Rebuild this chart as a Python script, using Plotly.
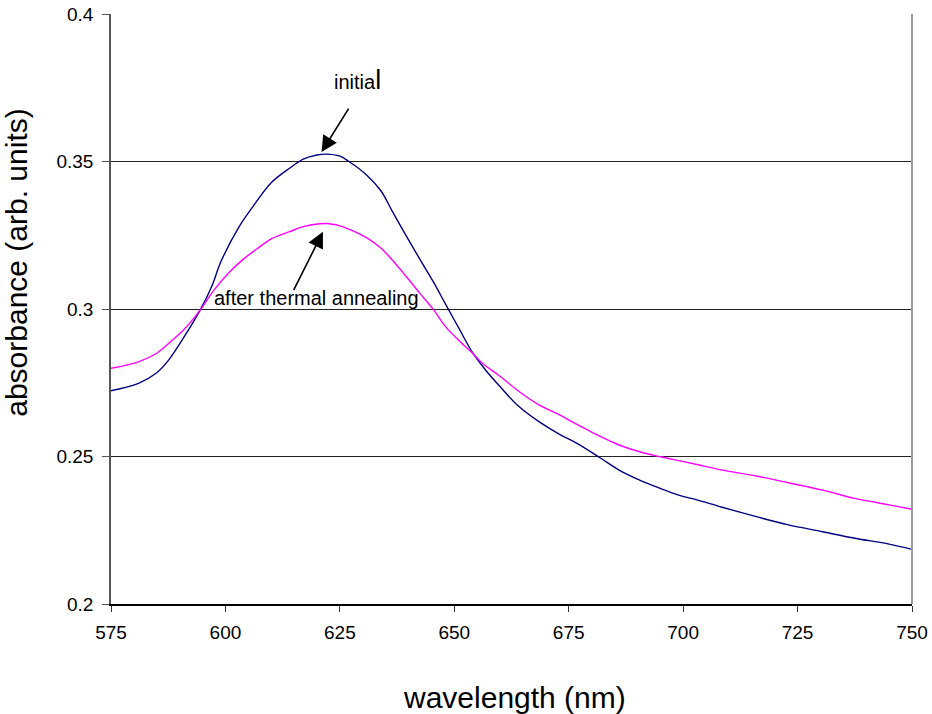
import plotly.graph_objects as go

# Wavelength (nm) and absorbance
wl_initial = [575, 581, 585, 587.5, 591, 594.5, 597, 599, 603, 606, 610, 614, 617, 620, 622,
              625, 627, 631, 634, 636.5, 639.5, 642.5, 645.5, 648, 651, 654, 657, 660, 664,
              668.5, 673, 677, 682, 686, 690.5, 695, 699, 703, 708.5, 716, 723, 730.5, 737.5,
              745, 750]
abs_initial = [0.2723, 0.2748, 0.2784, 0.2825, 0.2906, 0.2997, 0.3076, 0.3160, 0.3279, 0.3347,
               0.3428, 0.3477, 0.3508, 0.3522, 0.3525, 0.3518, 0.3500, 0.3452, 0.3400, 0.3330,
               0.3248, 0.3168, 0.3090, 0.3019, 0.2935, 0.2852, 0.2790, 0.2737, 0.2671, 0.2618,
               0.2575, 0.2543, 0.2494, 0.2454, 0.2420, 0.2392, 0.2369, 0.2353, 0.2328, 0.2296,
               0.2268, 0.2245, 0.2223, 0.2203, 0.2185]

wl_annealed = [575, 581, 585, 588, 591, 594.5, 597.5, 601, 604, 607, 610, 614, 617, 622, 625,
               628, 631, 634, 636.5, 639.5, 642.5, 645.5, 648, 651, 654, 656, 660, 664, 668.5,
               673, 677, 682, 686, 690.5, 695, 699, 703, 708.5, 716, 723, 730.5, 737.5, 745, 750]
abs_annealed = [0.2799, 0.2821, 0.2850, 0.2889, 0.2931, 0.2997, 0.3064, 0.3127, 0.3170, 0.3205,
                0.3238, 0.3262, 0.3279, 0.3290, 0.3282, 0.3264, 0.3240, 0.3206, 0.3165, 0.3110,
                0.3053, 0.2997, 0.2942, 0.2893, 0.2850, 0.2818, 0.2772, 0.2722, 0.2675, 0.2641,
                0.2607, 0.2567, 0.2539, 0.2516, 0.2499, 0.2486, 0.2473, 0.2454, 0.2434, 0.2411,
                0.2386, 0.2358, 0.2336, 0.2321]

x_ticks = [575, 600, 625, 650, 675, 700, 725, 750]
y_ticks = [0.2, 0.25, 0.3, 0.35, 0.4]

FONT = "Arial, 'Liberation Sans', sans-serif"

fig = go.Figure()
fig.add_trace(go.Scatter(x=wl_initial, y=abs_initial, mode="lines", name="initial",
                         line=dict(color="#000080", width=1.4, shape="spline", smoothing=1.0)))
fig.add_trace(go.Scatter(x=wl_annealed, y=abs_annealed, mode="lines", name="after thermal annealing",
                         line=dict(color="#FF00FF", width=1.4, shape="spline", smoothing=1.0)))

# arrows
fig.add_annotation(x=621.0, y=0.3532, xref="x", yref="y",
                   text="", showarrow=True, arrowhead=2, arrowsize=2, arrowwidth=1.6,
                   arrowcolor="black", ax=28, ay=-45, standoff=0)
fig.add_annotation(x=621.3, y=0.3262, xref="x", yref="y",
                   text="", showarrow=True, arrowhead=2, arrowsize=2, arrowwidth=1.6,
                   arrowcolor="black", ax=-30, ay=60, standoff=0)
# text labels
fig.add_annotation(x=628.9, y=0.3776, xref="x", yref="y", showarrow=False,
                   text="initia<span style='font-size:27px'>l</span>",
                   font=dict(family=FONT, size=20, color="black"))
fig.add_annotation(x=620.0, y=0.3037, xref="x", yref="y", showarrow=False,
                   text="after thermal annealing",
                   font=dict(family=FONT, size=20, color="black"))

# axis titles
fig.add_annotation(x=0.504, y=-0.158, xref="paper", yref="paper", showarrow=False,
                   xanchor="center", yanchor="middle",
                   text="wavelength (nm)", font=dict(family=FONT, size=30, color="black"))
fig.add_annotation(x=-0.1174, y=0.58, xref="paper", yref="paper", showarrow=False,
                   xanchor="center", yanchor="middle",
                   textangle=-90, text="absorbance (arb. units)",
                   font=dict(family=FONT, size=30, color="black"))

# right border
fig.add_shape(type="line", xref="paper", yref="paper", x0=1, x1=1, y0=0, y1=1,
              line=dict(color="#9a9a9a", width=2))

fig.update_layout(
    width=932, height=714,
    margin=dict(l=111, r=20, t=14, b=110),
    paper_bgcolor="white", plot_bgcolor="white",
    showlegend=False,
    font=dict(family=FONT, size=19, color="black"),
    xaxis=dict(range=[575, 750], tickvals=x_ticks, ticks="outside", ticklen=6,
               tickcolor="#333", showline=True, linecolor="black", linewidth=1.5,
               showgrid=False, zeroline=False, automargin=False, ticklabelstandoff=4),
    yaxis=dict(range=[0.2, 0.4], tickvals=y_ticks, ticks="outside", ticklen=7,
               tickcolor="#555", showline=True, linecolor="#555", linewidth=1.5,
               showgrid=True, gridcolor="#222", gridwidth=1, zeroline=False,
               automargin=False, ticklabelstandoff=5),
)

fig.write_html("out.html")
